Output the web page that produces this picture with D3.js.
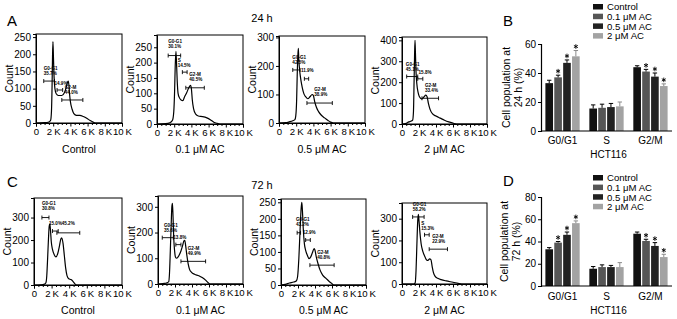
<!DOCTYPE html>
<html><head><meta charset="utf-8">
<script src="https://cdn.jsdelivr.net/npm/d3@7"></script>
<style>
html,body{margin:0;padding:0;background:#fff;}
svg{display:block;font-family:"Liberation Sans",Arial,sans-serif;}
</style></head>
<body><svg id="c" width="677" height="319"></svg>
<script>
// ---------------- DATA ----------------
const conditions = ["Control", "0.1 \u03bcM AC", "0.5 \u03bcM AC", "2 \u03bcM AC"];
const xTicksK = [0, 2, 4, 6, 8, 10];

// Histograms: [DNA content (K), count]
const histA1 = [[0,0],[1.0,1],[1.5,3],[1.7,8],[1.8,35],[1.87,110],[1.92,190],[1.97,237],[2.03,190],[2.1,135],[2.2,100],[2.35,85],[2.6,80],[3.0,80],[3.3,88],[3.5,102],[3.65,118],[3.75,122],[3.82,112],[3.9,85],[4.0,62],[4.2,40],[4.4,27],[4.7,22],[5.1,22],[5.5,19],[5.9,14],[6.3,7],[6.7,2],[7.0,0],[10,0]];
const histA2 = [[0,0],[1.0,1],[1.5,4],[1.8,12],[1.95,40],[2.05,110],[2.12,190],[2.2,237],[2.27,200],[2.35,140],[2.45,100],[2.6,86],[2.8,78],[3.0,76],[3.2,88],[3.45,102],[3.7,118],[3.9,126],[4.0,115],[4.1,80],[4.25,50],[4.5,32],[4.8,26],[5.3,24],[5.8,20],[6.2,14],[6.6,6],[7.0,2],[7.3,0],[10,0]];
const histA3 = [[0,0],[0.8,1],[1.2,4],[1.6,8],[1.85,12],[1.95,25],[2.05,80],[2.12,170],[2.2,240],[2.25,262],[2.3,225],[2.4,185],[2.5,160],[2.7,125],[2.9,102],[3.1,92],[3.35,85],[3.6,92],[3.85,100],[4.0,96],[4.15,75],[4.35,55],[4.6,40],[4.9,28],[5.3,18],[5.7,9],[6.0,3],[6.3,0],[10,0]];
const histA4 = [[0,0],[0.4,2],[0.8,10],[1.1,14],[1.25,18],[1.35,60],[1.42,200],[1.48,330],[1.53,400],[1.58,340],[1.65,250],[1.75,190],[1.9,150],[2.05,130],[2.3,120],[2.55,128],[2.8,138],[2.95,130],[3.1,100],[3.3,70],[3.6,48],[4.0,38],[4.5,28],[5.0,18],[5.5,10],[6.0,4],[6.4,0],[10,0]];
const histC1 = [[0,0],[0.8,1],[1.2,4],[1.35,10],[1.45,40],[1.55,120],[1.65,210],[1.73,262],[1.8,272],[1.88,240],[1.97,190],[2.1,158],[2.3,135],[2.5,125],[2.7,140],[2.9,175],[3.05,205],[3.15,210],[3.3,185],[3.45,130],[3.6,75],[3.75,42],[3.95,28],[4.2,24],[4.45,15],[4.65,5],[4.85,0],[10,0]];
const histC2 = [[0,0],[0.6,2],[1.0,4],[1.25,8],[1.35,40],[1.45,130],[1.55,230],[1.63,300],[1.7,313],[1.77,260],[1.85,180],[1.95,130],[2.05,105],[2.2,100],[2.45,110],[2.7,128],[2.9,150],[3.05,168],[3.15,170],[3.25,150],[3.4,110],[3.55,78],[3.7,58],[3.95,45],[4.3,38],[4.8,32],[5.2,25],[5.6,15],[5.9,5],[6.1,0],[10,0]];
const histC3 = [[0,0],[0.5,2],[1.0,6],[1.5,9],[1.8,12],[1.95,25],[2.1,80],[2.25,170],[2.38,235],[2.45,250],[2.52,225],[2.62,170],[2.75,125],[2.9,105],[3.1,90],[3.3,80],[3.5,85],[3.7,98],[3.9,110],[4.0,105],[4.15,85],[4.35,65],[4.6,45],[4.9,30],[5.3,20],[5.7,10],[6.0,4],[6.2,0],[10,0]];
const histC4 = [[0,0],[1.4,0],[1.55,5],[1.65,60],[1.75,180],[1.85,290],[1.93,320],[2.0,290],[2.1,240],[2.25,185],[2.45,150],[2.7,125],[2.9,110],[3.05,108],[3.25,115],[3.4,112],[3.55,80],[3.7,52],[3.9,35],[4.2,26],[4.6,20],[5.2,14],[6.0,8],[6.6,3],[7.0,0],[10,0]];

// Y-axis maxima and tick values of each histogram
const yMaxHist = {A1:259, A2:290, A3:305, A4:416, C1:387, C2:342, C3:260, C4:372};
const yTicks50_250 = [0,50,100,150,200,250];
const yTicks100_300 = [0,100,200,300];
const yTicks100_400 = [0,100,200,300,400];

// Gates: name, percent, range (K), level (count), label anchor (K, count)
const gatesA1 = [{n:"G0-G1",p:"35.7%",x0:0.9,x1:2.15,y:122,lx:0.9,ly:139},{n:"",p:"14.9%",x0:2.45,x1:3.1,y:96,lx:2.15,ly:112},{n:"G2-M",p:"44.0%",x0:3.0,x1:5.45,y:67,lx:3.35,ly:83}];
const gatesA2 = [{n:"G0-G1",p:"30.1%",x0:1.3,x1:2.75,y:223,lx:1.3,ly:247},{n:"S",p:"14.5%",x0:2.95,x1:3.5,y:169,lx:2.4,ly:187},{n:"G2-M",p:"40.5%",x0:3.35,x1:5.5,y:118,lx:3.75,ly:139}];
const gatesA3 = [{n:"G0-G1",p:"42.5%",x0:1.6,x1:2.45,y:186,lx:1.55,ly:206},{n:"",p:"11.9%",x0:2.95,x1:3.45,y:155,lx:2.55,ly:180},{n:"G2-M",p:"38.9%",x0:3.25,x1:6.2,y:70,lx:4.1,ly:95}];
const gatesA4 = [{n:"G0-G1",p:"45.1%",x0:0.55,x1:1.85,y:227,lx:0.45,ly:254},{n:"",p:"15.8%",x0:1.85,x1:2.45,y:216,lx:1.95,ly:240},{n:"G2-M",p:"33.4%",x0:2.35,x1:4.3,y:123,lx:2.7,ly:152}];
const gatesC1 = [{n:"G0-G1",p:"30.8%",x0:0.9,x1:1.7,y:300,lx:0.9,ly:335},{n:"",p:"15.0%",x0:2.1,x1:2.75,y:240,lx:1.7,ly:269},{n:"",p:"45.2%",x0:2.6,x1:5.2,y:232,lx:3.15,ly:269}];
const gatesC2 = [{n:"G0-G1",p:"35.6%",x0:0.5,x1:1.8,y:180,lx:0.7,ly:201},{n:"",p:"13.8%",x0:2.1,x1:2.7,y:153,lx:1.8,ly:175},{n:"G2-M",p:"49.9%",x0:2.7,x1:5.6,y:88,lx:3.5,ly:111}];
const gatesC3 = [{n:"G0-G1",p:"43.2%",x0:1.9,x1:2.3,y:158,lx:1.75,ly:177},{n:"",p:"12.9%",x0:2.9,x1:3.45,y:136,lx:2.55,ly:155},{n:"G2-M",p:"40.8%",x0:3.4,x1:6.25,y:60,lx:4.25,ly:80}];
const gatesC4 = [{n:"G0-G1",p:"58.2%",x0:1.25,x1:2.6,y:308,lx:1.25,ly:334},{n:"S",p:"15.3%",x0:2.65,x1:3.2,y:226,lx:2.25,ly:249},{n:"G2-M",p:"22.9%",x0:3.2,x1:5.35,y:160,lx:3.55,ly:189}];

// Bar charts
const phases = ["G0/G1", "S", "G2/M"];
const b24Control = [33, 15.5, 44];
const b24AC01 = [37, 16, 41];
const b24AC05 = [47, 16.5, 37.5];
const b24AC2 = [51.5, 17, 31];
const b24ErrControl = [2, 2.5, 1];
const b24ErrAC01 = [1.5, 2.5, 1.5];
const b24ErrAC05 = [2, 2.5, 2.5];
const b24ErrAC2 = [4, 3, 1.5];
const b72Control = [33, 15.5, 47];
const b72AC01 = [39, 17, 40.5];
const b72AC05 = [46, 17, 36];
const b72AC2 = [56.5, 17, 26];
const b72ErrControl = [1.5, 2, 1.5];
const b72ErrAC01 = [1, 2, 1.5];
const b72ErrAC05 = [2.5, 1.5, 3];
const b72ErrAC2 = [2, 4, 2.5];
const sigFlags = [[false,false,false],[true,false,true],[true,false,true],[true,false,true]]; // per series, per phase
const bar24Ticks = [0,20,40,60];
const bar72Ticks = [0,20,40,60,80];

// ---------------- DRAWING ----------------
const svg = d3.select("#c");
const FONT = '"Liberation Sans",Arial,sans-serif';

function text(x, y, s, size, anchor, extra) {
  const t = svg.append("text").attr("x", x).attr("y", y).text(s)
    .attr("font-size", size).attr("text-anchor", anchor || "start").attr("fill", "#000");
  if (extra) extra(t);
  return t;
}

function histogram(cfg) {
  const {left, right, top, bottom, data, yMax, yTicks, gates, label, labelY} = cfg;
  const x = d3.scaleLinear().domain([0, 10]).range([left, right]);
  const y = d3.scaleLinear().domain([0, yMax]).range([bottom, top]);
  const g = svg.append("g");
  g.append("rect").attr("x", left).attr("y", top).attr("width", right - left).attr("height", bottom - top)
    .attr("fill", "none").attr("stroke", "#000").attr("stroke-width", 1);
  const minor = d3.range(0, 10.01, 0.5).filter(v => Math.abs(v % 2) > 1e-6);
  g.append("g").attr("transform", `translate(0,${bottom})`)
    .call(d3.axisBottom(x).tickValues(minor).tickSize(2).tickFormat(""))
    .call(a => a.select(".domain").remove());
  const xa = g.append("g").attr("transform", `translate(0,${bottom})`)
    .call(d3.axisBottom(x).tickValues(xTicksK).tickSize(3.5).tickPadding(2)
      .tickFormat(d => d === 0 ? "0" : d + "\u2009K"));
  xa.selectAll("text").attr("font-size", 9.6).attr("font-family", FONT).attr("fill", "#000");
  xa.attr("font-family", FONT);
  const ya = g.append("g").attr("transform", `translate(${left},0)`)
    .call(d3.axisLeft(y).tickValues(yTicks).tickSize(3).tickPadding(2));
  ya.selectAll("text").attr("font-size", 10).attr("font-family", FONT).attr("fill", "#000");
  ya.attr("font-family", FONT);
  text(left - 23, (top + bottom) / 2, "Count", 10.5, "middle",
    t => t.attr("transform", `rotate(-90,${left - 23},${(top + bottom) / 2})`));
  g.append("path").datum(data)
    .attr("d", d3.line().x(d => x(d[0])).y(d => y(d[1])).curve(d3.curveMonotoneX))
    .attr("fill", "none").attr("stroke", "#000").attr("stroke-width", 1.2);
  gates.forEach(gt => {
    const yy = y(gt.y);
    g.append("line").attr("x1", x(gt.x0)).attr("x2", x(gt.x1)).attr("y1", yy).attr("y2", yy)
      .attr("stroke", "#000").attr("stroke-width", 0.9);
    [gt.x0, gt.x1].forEach(v => g.append("line").attr("x1", x(v)).attr("x2", x(v))
      .attr("y1", yy - 2).attr("y2", yy + 2).attr("stroke", "#000").attr("stroke-width", 0.9));
    const lx = x(gt.lx), ly = y(gt.ly);
    g.append("text").attr("x", lx).attr("y", ly).text(gt.p).attr("font-size", 4.6)
      .attr("font-weight", "bold").attr("fill", "#000");
    if (gt.n) g.append("text").attr("x", lx).attr("y", ly - 5).text(gt.n).attr("font-size", 4.6)
      .attr("font-weight", "bold").attr("fill", "#000");
  });
  text((left + right) / 2, labelY, label, 10.5, "middle");
}

const histRows = [
  {key:"A1", left:36, right:122, top:34, bottom:123, data:histA1, yTicks:yTicks50_250, gates:gatesA1, label:conditions[0], labelY:153},
  {key:"A2", left:157, right:243, top:35, bottom:124, data:histA2, yTicks:yTicks50_250, gates:gatesA2, label:conditions[1], labelY:153},
  {key:"A3", left:279, right:365, top:36, bottom:123, data:histA3, yTicks:yTicks100_300, gates:gatesA3, label:conditions[2], labelY:153},
  {key:"A4", left:402, right:487, top:37, bottom:124, data:histA4, yTicks:yTicks100_400, gates:gatesA4, label:conditions[3], labelY:153},
  {key:"C1", left:34, right:122, top:198, bottom:285, data:histC1, yTicks:yTicks100_300, gates:gatesC1, label:conditions[0], labelY:314},
  {key:"C2", left:158, right:243, top:196, bottom:284, data:histC2, yTicks:yTicks100_300, gates:gatesC2, label:conditions[1], labelY:314},
  {key:"C3", left:281, right:366, top:199, bottom:285, data:histC3, yTicks:yTicks50_250, gates:gatesC3, label:conditions[2], labelY:314},
  {key:"C4", left:402, right:487, top:203, bottom:284, data:histC4, yTicks:yTicks100_300, gates:gatesC4, label:conditions[3], labelY:314}
];
histRows.forEach(r => histogram(Object.assign({yMax: yMaxHist[r.key]}, r)));

text(7, 26, "A", 15);
text(7, 187, "C", 15);
text(503, 26, "B", 15);
text(503, 186, "D", 15);
text(262, 22, "24 h", 11, "middle");
text(262, 189, "72 h", 11, "middle");

const seriesColors = ["#111111", "#565656", "#222222", "#a3a3a3"];

function asterisk(g, cx, cy, r) {
  [0, 60, 120].forEach(a => {
    const rad = a * Math.PI / 180, dx = Math.sin(rad) * r, dy = Math.cos(rad) * r;
    g.append("line").attr("x1", cx - dx).attr("x2", cx + dx).attr("y1", cy - dy).attr("y2", cy + dy)
      .attr("stroke", "#000").attr("stroke-width", 0.9);
  });
}

function barChart(cfg) {
  const {left, right, bottom, top, yMax, ticks, means, errs, titleLines, titleX, legendY, legendStep, groupLabelY, hctY} = cfg;
  const y = d3.scaleLinear().domain([0, yMax]).range([bottom, top]);
  const x0 = d3.scaleBand().domain(phases).range([left, right]).paddingInner(0.22).paddingOuter(0.1);
  const x1 = d3.scaleBand().domain(d3.range(4)).range([0, x0.bandwidth()]).paddingInner(0.14);
  const g = svg.append("g");
  means.forEach((arr, si) => {
    arr.forEach((v, pi) => {
      const bx = x0(phases[pi]) + x1(si), bw = x1.bandwidth();
      g.append("rect").attr("x", bx).attr("y", y(v)).attr("width", bw).attr("height", y(0) - y(v))
        .attr("fill", seriesColors[si]);
      const cx = bx + bw / 2, ye = y(v + errs[si][pi]);
      const ec = si === 3 ? "#8c8c8c" : "#000";
      g.append("line").attr("x1", cx).attr("x2", cx).attr("y1", y(v)).attr("y2", ye).attr("stroke", ec).attr("stroke-width", 1);
      g.append("line").attr("x1", cx - 2.2).attr("x2", cx + 2.2).attr("y1", ye).attr("y2", ye).attr("stroke", ec).attr("stroke-width", 1);
      if (sigFlags[si][pi]) asterisk(g, cx, ye - 4, 2.3);
    });
  });
  const ya = g.append("g").attr("transform", `translate(${left},0)`)
    .call(d3.axisLeft(y).tickValues(ticks).tickSize(3).tickPadding(2));
  ya.selectAll("text").attr("font-size", 10).attr("font-family", FONT).attr("fill", "#000");
  ya.select(".domain").attr("stroke-width", 1.2);
  g.append("line").attr("x1", left).attr("x2", right).attr("y1", bottom).attr("y2", bottom)
    .attr("stroke", "#000").attr("stroke-width", 1.2);
  phases.forEach(p => text(x0(p) + x0.bandwidth() / 2, groupLabelY, p, 10, "middle"));
  text((left + right) / 2 + 2, hctY, "HCT116", 10, "middle");
  const cy = (top + bottom) / 2;
  titleLines.forEach((s, i) => {
    const tx = titleX + i * 11.5;
    text(tx, cy, s, 10.5, "middle", t => t.attr("transform", `rotate(-90,${tx},${cy})`));
  });
  conditions.forEach((c, i) => {
    const ly = legendY + i * legendStep;
    g.append("rect").attr("x", 593).attr("y", ly - 3).attr("width", 10).attr("height", 5.5).attr("fill", seriesColors[i]);
    text(607, ly + 3.3, c, 9.6);
  });
}

barChart({left:541, right:672, bottom:131, top:44, yMax:60, ticks:bar24Ticks,
  means:[b24Control, b24AC01, b24AC05, b24AC2], errs:[b24ErrControl, b24ErrAC01, b24ErrAC05, b24ErrAC2],
  titleLines:["Cell population at", "24 h (%)"], titleX:510, legendY:7, legendStep:9.7, groupLabelY:144, hctY:158});
barChart({left:541, right:672, bottom:286, top:197, yMax:80, ticks:bar72Ticks,
  means:[b72Control, b72AC01, b72AC05, b72AC2], errs:[b72ErrControl, b72ErrAC01, b72ErrAC05, b72ErrAC2],
  titleLines:["Cell population at", "72 h (%)"], titleX:508, legendY:178, legendStep:9.6, groupLabelY:300, hctY:314});
</script></body></html>
